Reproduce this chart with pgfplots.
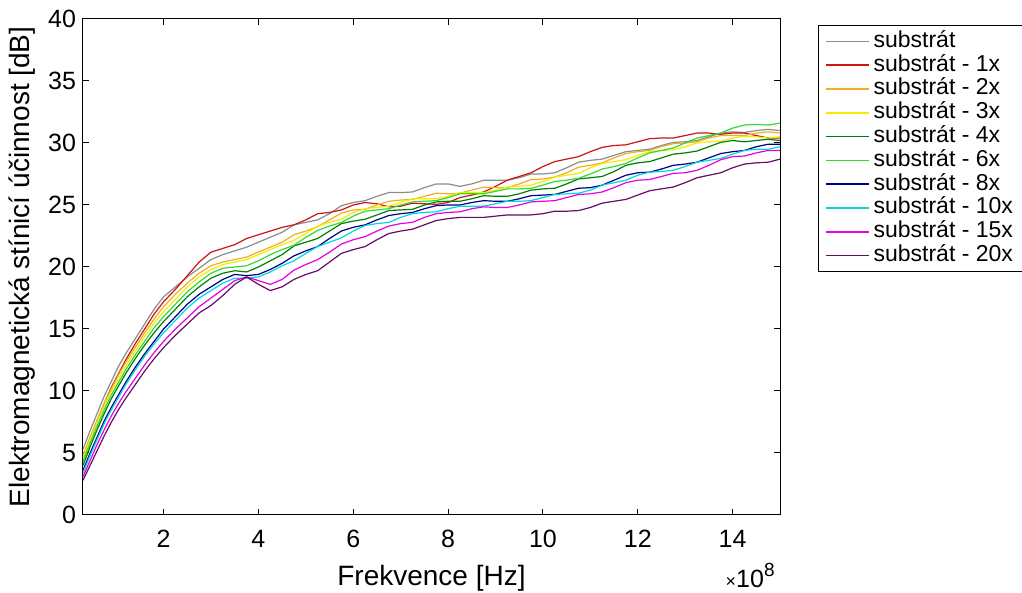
\documentclass[border=0pt]{standalone}
\usepackage{fontspec}
\setmainfont{Liberation Sans}
\usepackage{pgfplots}
\usepackage{pgfplotstable}
\pgfplotsset{compat=1.18}

\definecolor{cS}{rgb}{0.55,0.55,0.55}
\definecolor{c1}{rgb}{0.80,0.08,0.08}
\definecolor{c2}{rgb}{0.93,0.69,0.13}
\definecolor{c3}{rgb}{0.96,0.92,0.00}
\definecolor{c4}{rgb}{0.00,0.50,0.00}
\definecolor{c6}{rgb}{0.20,0.85,0.20}
\definecolor{c8}{rgb}{0.00,0.00,0.55}
\definecolor{c10}{rgb}{0.00,0.85,0.85}
\definecolor{c15}{rgb}{0.90,0.00,0.90}
\definecolor{c20}{rgb}{0.40,0.05,0.40}

\pgfplotstableread{
x     s0    s1    s2    s3    s4    s6    s8    s10   s15   s20
0.3   5.3   4.6   4.8   4.6   4.0   4.3   3.6   3.4   3.1   2.8
0.45  6.8   6.2   6.3   6.1   5.5   5.8   5.0   4.8   4.4   4.0
0.6   8.2   7.6   7.7   7.5   6.9   7.2   6.3   6.1   5.7   5.2
0.75  9.6   9.0   9.0   8.8   8.2   8.5   7.6   7.4   6.9   6.4
0.9   10.8  10.3  10.2  10.0  9.4   9.7   8.7   8.5   8.0   7.5
1.05  12.0  11.4  11.3  11.0  10.4  10.7  9.7   9.5   9.0   8.5
1.2   13.0  12.5  12.3  12.0  11.4  11.7  10.7  10.5  9.9   9.4
1.4   14.2  13.8  13.5  13.2  12.6  12.9  11.9  11.7  11.0  10.5
1.6   15.4  15.0  14.7  14.4  13.7  14.0  13.0  12.8  12.1  11.6
1.8   16.6  16.2  15.8  15.5  14.7  15.1  14.0  13.8  13.1  12.6
2.0   17.6  17.2  16.8  16.4  15.6  16.0  15.0  14.7  14.0  13.5
2.25  18.4  18.2  17.8  17.4  16.6  17.0  16.0  15.7  15.0  14.5
2.5   19.2  19.3  18.7  18.4  17.6  18.0  17.0  16.7  15.9  15.4
2.75  19.9  20.4  19.5  19.2  18.4  18.8  17.8  17.5  16.8  16.3
3.0   20.6  21.2  20.1  19.8  19.1  19.5  18.4  18.1  17.5  16.9
3.25  21.0  21.5  20.4  20.2  19.5  19.9  19.0  18.7  18.2  17.7
3.5   21.3  21.8  20.6  20.4  19.7  20.0  19.4  19.1  18.9  18.6
3.75  21.6  22.3  20.8  20.6  19.6  20.1  19.3  19.1  19.2  19.2
4.0   22.0  22.6  21.2  21.0  20.0  20.5  19.4  19.2  18.9  18.6
4.25  22.4  22.9  21.6  21.4  20.5  21.0  19.8  19.6  18.6  18.1
4.5   22.8  23.2  22.0  21.8  21.0  21.4  20.3  20.1  19.0  18.4
4.75  23.4  23.4  22.6  22.15 21.7  21.75 20.9  20.5  19.75 19.0
5.0   23.6  23.8  22.9  22.7  22.0  22.4  21.3  21.1  20.2  19.4
5.25  23.8  24.3  23.25 23.3  22.3  22.95 21.65 21.65 20.6  19.7
5.5   24.3  24.4  23.8  23.6  22.9  23.3  22.3  22.0  21.2  20.4
5.75  24.95 24.6  24.35 23.85 23.5  23.6  22.9  22.35 21.85 21.1
6.0   25.2  25.0  24.6  24.4  23.7  24.1  23.2  22.9  22.2  21.4
6.25  25.35 25.2  24.65 24.7  23.85 24.5  23.4  23.35 22.45 21.65
6.5   25.7  25.1  25.0  24.8  24.2  24.6  23.8  23.5  22.9  22.2
6.75  26.0  24.85 25.3  24.9  24.55 24.7  24.15 23.6  23.3  22.7
7.0   26.0  24.9  25.4  25.2  24.6  25.0  24.3  24.0  23.5  22.9
7.25  26.05 25.15 25.45 25.5  24.65 25.25 24.4  24.3  23.6  23.05
7.5   26.4  25.1  25.7  25.5  25.0  25.3  24.7  24.4  24.0  23.4
7.75  26.7  25.05 25.95 25.5  25.25 25.35 24.95 24.45 24.3  23.75
8.0   26.7  25.2  25.9  25.7  25.3  25.6  25.0  24.7  24.4  23.9
8.25  26.5  25.6  25.95 26.0  25.3  25.9  25.0  24.9  24.45 24.0
8.5   26.7  25.8  26.2  26.0  25.5  25.9  25.2  24.9  24.7  24.0
8.75  27.0  26.05 26.45 26.0  25.75 25.9  25.35 24.9  24.85 24.0
9.0   27.0  26.5  26.4  26.2  25.7  26.1  25.3  25.1  24.8  24.1
9.25  27.0  27.0  26.4  26.45 25.7  26.3  25.3  25.3  24.8  24.2
9.5   27.2  27.3  26.7  26.5  25.9  26.3  25.5  25.3  25.0  24.2
9.75  27.5  27.6  27.05 26.6  26.2  26.35 25.75 25.35 25.25 24.2
10.0  27.5  28.1  27.1  26.9  26.3  26.6  25.8  25.6  25.3  24.3
10.25 27.6  28.5  27.25 27.25 26.35 26.9  25.85 25.85 25.35 24.5
10.5  28.0  28.7  27.6  27.4  26.7  27.0  26.1  25.9  25.6  24.5
10.75 28.45 28.9  28.05 27.55 27.1  27.15 26.35 25.95 25.85 24.55
11.0  28.6  29.3  28.2  28.0  27.2  27.5  26.4  26.2  25.9  24.8
11.25 28.7  29.65 28.4  28.35 27.3  27.9  26.6  26.6  26.05 25.15
11.5  29.0  29.8  28.8  28.5  27.7  28.1  27.0  26.8  26.4  25.3
11.75 29.3  29.85 29.15 28.65 28.2  28.35 27.4  27.0  26.8  25.45
12.0  29.4  30.1  29.3  29.0  28.4  28.8  27.6  27.4  27.0  25.8
12.25 29.5  30.35 29.4  29.3  28.5  29.2  27.65 27.65 27.05 26.15
12.5  29.8  30.4  29.7  29.4  28.8  29.4  27.9  27.7  27.3  26.3
12.75 30.05 30.4  29.95 29.45 29.1  29.6  28.2  27.8  27.55 26.45
13.0  30.1  30.6  30.0  29.7  29.2  30.0  28.3  28.1  27.6  26.8
13.25 30.2  30.8  30.1  30.0  29.35 30.4  28.45 28.45 27.8  27.2
13.5  30.5  30.8  30.4  30.1  29.7  30.6  28.8  28.6  28.2  27.4
13.75 30.8  30.7  30.6  30.15 30.05 30.8  29.15 28.75 28.65 27.6
14.0  30.9  30.8  30.6  30.4  30.2  31.2  29.3  29.1  28.9  28.0
14.25 30.85 30.8  30.6  30.55 30.1  31.45 29.4  29.4  28.95 28.3
14.5  31.0  30.6  30.8  30.5  30.2  31.5  29.7  29.5  29.2  28.4
14.75 31.1  30.4  30.9  30.4  30.3  31.45 29.9  29.5  29.4  28.45
15.0  31.0  30.4  30.8  30.5  30.2  31.6  29.9  29.7  29.4  28.7
}\data

\begin{document}
\begin{tikzpicture}
\begin{axis}[
  name=ax, at={(0,0)}, anchor=south west,
  scale only axis, width=348.5pt, height=248pt,
  xmin=0.3, xmax=15, ymin=0, ymax=40,
  xtick={2,4,...,14}, ytick={0,5,...,40},
  tick align=inside, major tick length=3pt,
  axis line style={line width=0.5pt},
  every tick/.style={line width=0.5pt, black},
  /pgf/number format/assume math mode=true,
  ticklabel style={font=\fontsize{12.5}{14}\selectfont},
  xticklabel style={yshift=-4pt},
  xlabel={Frekvence [Hz]},
  ylabel={Elektromagnetická stínicí účinnost [dB]},
  label style={font=\fontsize{14}{16}\selectfont},
  xlabel style={at={(axis description cs:0.5,-0.127)}, anchor=center},
  ylabel style={at={(axis description cs:-0.0875,0.5)}, anchor=center},
  legend cell align=left,
  legend image code/.code={\draw[#1, line width=0.8pt] (0pt,0pt) -- (21.5pt,0pt);},
  legend style={at={(axis description cs:1.0545,0.988)}, anchor=north west,
    draw=black, line width=0.5pt, inner xsep=3.5pt, inner ysep=2pt,
    font=\fontsize{11.5}{12}\selectfont, row sep=0pt,
    nodes={inner ysep=0.5pt, inner xsep=1.75pt, text height=8.4pt, text depth=2.5pt}},
  every axis plot/.append style={line width=0.6pt},
]
\addplot[cS]  table[x=x,y=s0]  {\data};
\addplot[c1]  table[x=x,y=s1]  {\data};
\addplot[c2]  table[x=x,y=s2]  {\data};
\addplot[c3]  table[x=x,y=s3]  {\data};
\addplot[c4]  table[x=x,y=s4]  {\data};
\addplot[c6]  table[x=x,y=s6]  {\data};
\addplot[c8]  table[x=x,y=s8]  {\data};
\addplot[c10] table[x=x,y=s10] {\data};
\addplot[c15] table[x=x,y=s15] {\data};
\addplot[c20] table[x=x,y=s20] {\data};
\legend{substrát, substrát - 1x, substrát - 2x, substrát - 3x, substrát - 4x, substrát - 6x, substrát - 8x, substrát - 10x, substrát - 15x, substrát - 20x}
\end{axis}
\node[anchor=base east, xshift=-2.5pt, yshift=-36.5pt, inner sep=0pt] at (ax.south east) {{\fontsize{9}{10}\selectfont ×}{\fontsize{12.5}{14}\selectfont 10}\raisebox{5.5pt}{\fontsize{9.5}{10}\selectfont 8}};
\pgfresetboundingbox
\useasboundingbox (-41.5pt,-39pt) rectangle (469.5pt,257.5pt);
\end{tikzpicture}
\end{document}
